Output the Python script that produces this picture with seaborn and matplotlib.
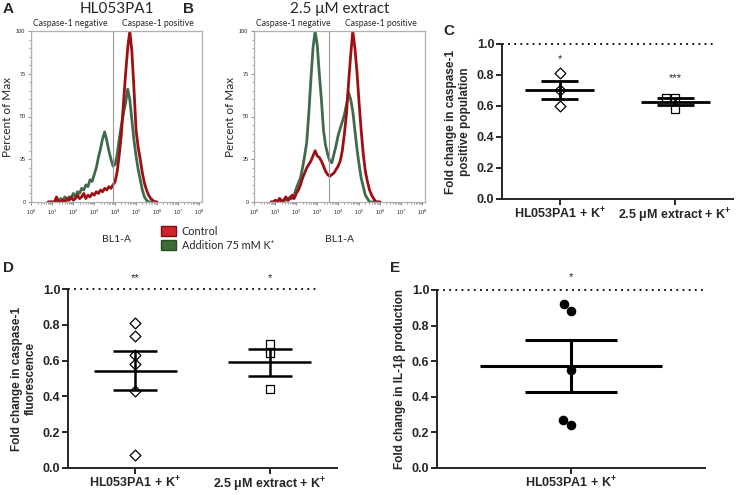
import numpy as np
import pandas as pd
import matplotlib
matplotlib.use("Agg")
import matplotlib.pyplot as plt
import seaborn as sns
from matplotlib.patches import Patch
from matplotlib.font_manager import FontProperties
from matplotlib.ticker import MultipleLocator, LogLocator, NullFormatter

# flow histograms: log10(BL1-A) bins, percent of max
bin_log = np.round(np.arange(0.8, 6.05, 0.1), 1)

a_control = [0, 0, 0, 0, 3, 0, 0, 1, 0, 2,
             1, 3, 1, 2, 4, 2, 3, 5, 2, 4,
             3, 5, 4, 6, 5, 7, 6, 8, 7, 9,
             8, 10, 12, 18, 28, 40, 58, 75, 90, 100,
             88, 66, 42, 32, 25, 17, 11, 7, 4, 2,
             1, 0, 0]
a_k = [0, 0, 0, 0, 1, 0, 2, 1, 3, 1,
       3, 2, 5, 3, 6, 5, 8, 7, 10, 9,
       13, 12, 16, 20, 26, 31, 37, 41, 36, 30,
       25, 21, 22, 28, 37, 45, 52, 58, 66, 60,
       48, 36, 27, 19, 13, 7, 3, 1, 0, 0,
       0, 0, 0]
b_control = [0, 0, 1, 0, 2, 0, 1, 3, 1, 2,
             4, 2, 5, 7, 10, 14, 17, 20, 22, 24,
             27, 30, 27, 26, 24, 21, 18, 16, 15, 16,
             17, 19, 21, 24, 30, 40, 52, 70, 86, 100,
             90, 76, 58, 42, 28, 18, 12, 7, 4, 2,
             0, 0, 0]
b_k = [0, 0, 1, 0, 2, 1, 0, 2, 1, 3,
       2, 4, 8, 11, 14, 20, 27, 35, 52, 72,
       90, 100, 92, 75, 60, 42, 33, 28, 24, 23,
       28, 33, 39, 43, 47, 51, 57, 64, 60, 53,
       42, 31, 22, 14, 9, 4, 2, 0, 0, 0,
       0, 0, 0]
a_gate = 3.88
b_gate = 3.56

# fold changes
groups = ["HL053PA1 + K$^\\mathbf{+}$", "2.5 μM extract + K$^\\mathbf{+}$"]
c_hl = [0.81, 0.70, 0.60]
c_ext = [0.65, 0.65, 0.58]
d_hl = [0.81, 0.74, 0.63, 0.58, 0.43, 0.07]
d_ext = [0.69, 0.64, 0.44]
e_hl = [0.88, 0.92, 0.55, 0.27, 0.24]

RED = "#9e0f14"
GREEN = "#3f6b4b"

sns.set_style("ticks")
plt.rcParams["font.family"] = ["Liberation Sans", "DejaVu Sans"]
plt.rcParams["mathtext.fontset"] = "custom"
plt.rcParams["mathtext.rm"] = "Liberation Sans"
plt.rcParams["mathtext.bf"] = "Liberation Sans:bold"
LIGHT = ["Lato", "DejaVu Sans"]

fig = plt.figure(figsize=(7.36, 4.95), dpi=100)
W, H = 736, 495


def box(l, t, r, b):
    return [l / W, 1 - b / H, (r - l) / W, (b - t) / H]


def hist_panel(ax, control, k, gate, title):
    x = 10 ** bin_log
    sns.lineplot(x=x, y=k, ax=ax, color=GREEN, lw=2.0)
    sns.lineplot(x=x, y=control, ax=ax, color=RED, lw=2.0)
    ax.axvline(1.0, color=RED, lw=1.5)
    ax.axvline(10 ** gate, color="#9a9a9a", lw=0.8)
    ax.set_xscale("log")
    ax.set_xlim(10 ** -0.02, 10 ** 8.15)
    ax.set_ylim(0, 100)
    ax.set_xticks([10 ** i for i in range(9)])
    ax.xaxis.set_minor_locator(LogLocator(base=10, subs=np.arange(2, 10), numticks=20))
    ax.xaxis.set_minor_formatter(NullFormatter())
    ax.set_yticks([0, 25, 50, 75, 100])
    ax.yaxis.set_minor_locator(MultipleLocator(5))
    ax.tick_params(which="major", labelsize=4, length=2.5, width=0.6, color="#777777", pad=1.5)
    ax.tick_params(which="minor", length=1.3, width=0.5, color="#777777")
    for s in ax.spines.values():
        s.set_color("#b0b0b0")
        s.set_linewidth(0.9)
    ax.set_xlabel("BL1-A", family=LIGHT, fontsize=7.5, labelpad=13)
    ax.set_ylabel("Percent of Max", family=LIGHT, fontsize=8.5, labelpad=2)
    ax.set_title(title, family=LIGHT, fontsize=11, pad=13)
    ax.text(0.23, 1.015, "Caspase-1 negative", transform=ax.transAxes, ha="center",
            va="bottom", family=LIGHT, fontsize=6.2)
    ax.text(0.74, 1.015, "Caspase-1 positive", transform=ax.transAxes, ha="center",
            va="bottom", family=LIGHT, fontsize=6.2)


def scatter_panel(ax, values, cats, markers, face, size, mean_w, cap_w, line_w, dots_end):
    df = pd.DataFrame({"group": np.repeat(cats, [len(v) for v in values]),
                       "fold": np.concatenate(values)})
    stats = df.groupby("group", sort=False)["fold"].agg(["mean", "sem"])
    for cat, mk in zip(cats, markers):
        sns.swarmplot(data=df[df["group"] == cat], x="group", y="fold", order=cats,
                      marker=mk, color=face, edgecolor="black", linewidth=0.9,
                      size=size, ax=ax, zorder=3)
    for i, cat in enumerate(cats):
        m, s = stats.loc[cat, "mean"], stats.loc[cat, "sem"]
        ax.hlines(m, i - mean_w, i + mean_w, color="black", lw=line_w, zorder=4)
        ax.hlines([m - s, m + s], i - cap_w, i + cap_w, color="black", lw=line_w, zorder=4)
        ax.vlines(i, m - s, m + s, color="black", lw=line_w, zorder=4)
    left = -0.5 if len(cats) > 1 else -1.0
    right = 1.5 if len(cats) > 1 else 1.0
    ax.plot([left, dots_end], [1.0, 1.0], color="black", lw=1.3, ls=(0, (1, 2.4)),
            clip_on=False, zorder=2)
    ax.set_xlim(left, right)
    ax.set_ylim(0, 1.0)
    ax.set_yticks(np.arange(0, 1.01, 0.2))
    ax.set_yticklabels([f"{v:.1f}" for v in np.arange(0, 1.01, 0.2)], fontweight="bold")
    ax.set_xticks(range(len(cats)))
    ax.set_xticklabels(cats, fontweight="bold")
    ax.tick_params(labelsize=9, length=4, width=1.4, pad=1.5)
    ax.set_xlabel("")
    sns.despine(ax=ax)
    for s in ("left", "bottom"):
        ax.spines[s].set_linewidth(1.4)
    return stats


ax_a = fig.add_axes(box(31, 31, 202, 202))
hist_panel(ax_a, a_control, a_k, a_gate, "HL053PA1")
ax_b = fig.add_axes(box(254, 31, 425, 202))
hist_panel(ax_b, b_control, b_k, b_gate, "2.5 μM extract")

star = dict(ha="center", va="center", fontsize=8, clip_on=False)

ax_c = fig.add_axes(box(502, 44, 733, 199))
scatter_panel(ax_c, [c_hl, c_ext], groups, ["D", "s"], "white", 5.5, 0.3, 0.16, 2.0, 1.33)
ax_c.set_ylabel("Fold change in caspase-1\npositive population", fontweight="bold",
                fontsize=8.5, labelpad=4)
ax_c.text(0, 0.9, "*", **star)
ax_c.text(1, 0.78, "***", **star)

ax_d = fig.add_axes(box(68, 289, 337, 468))
scatter_panel(ax_d, [d_hl, d_ext], groups, ["D", "s"], "white", 5.5, 0.31, 0.165, 1.8, 1.35)
ax_d.set_ylabel("Fold change in caspase-1\nfluorescence", fontweight="bold",
                fontsize=8.5, labelpad=4)
ax_d.text(0, 1.06, "**", **star)
ax_d.text(1, 1.06, "*", **star)

ax_e = fig.add_axes(box(437, 290, 705, 468))
scatter_panel(ax_e, [e_hl], groups[:1], ["o"], "black", 6, 0.68, 0.34, 2.2, 1.0)
ax_e.set_ylabel("Fold change in IL-1β production", fontweight="bold", fontsize=8.5,
                labelpad=4)
ax_e.text(0, 1.07, "*", **star)

# legend for the histograms
handles = [Patch(facecolor="#d2232a", edgecolor="#7a1015", label="Control"),
           Patch(facecolor="#3d6b35", edgecolor="#2a4a25", label="Addition 75 mM K⁺")]
fig.legend(handles=handles, loc="upper left", bbox_to_anchor=(161 / W, 1 - 226 / H),
           frameon=False, prop=FontProperties(family=LIGHT, size=7.8), handlelength=1.4,
           handleheight=1.0, handletextpad=0.5, labelspacing=0.25, borderaxespad=0,
           borderpad=0)

for letter, x, y in [("A", 3, 2), ("B", 183, 2), ("C", 443, 24), ("D", 3, 261), ("E", 390, 261)]:
    fig.text(x / W, 1 - y / H, letter, fontsize=11, fontweight="bold", va="top", ha="left")

fig.savefig("out.png", dpi=100)
